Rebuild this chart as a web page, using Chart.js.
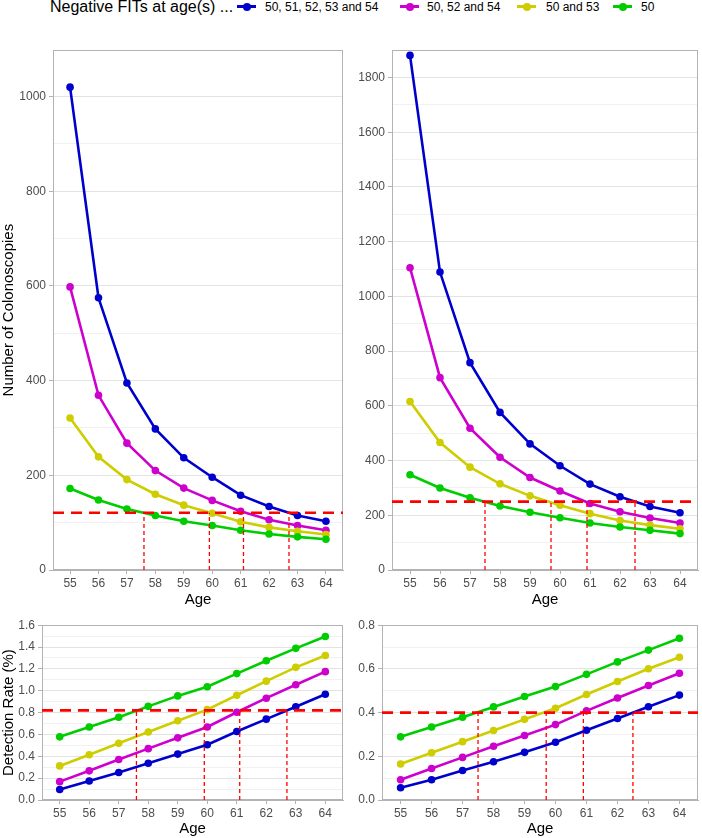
<!DOCTYPE html>
<html>
<head>
<meta charset="utf-8">
<script src="https://cdn.jsdelivr.net/npm/chart.js@4.4.0/dist/chart.umd.min.js"></script>
<style>
  body { margin: 0; background: #fff; width: 702px; height: 838px; position: relative; overflow: hidden;
         font-family: "Liberation Sans", Arial, sans-serif; }
  .box { position: absolute; }
  .lg { position: absolute; white-space: nowrap; line-height: 1; color: #000; }
  .sym { position: absolute; height: 3px; }
  .sym i { position: absolute; left: 50%; top: 50%; width: 8px; height: 8px; margin: -4px 0 0 -4px; border-radius: 50%; }
</style>
</head>
<body>
<div id="legend"></div>
<div class="box" style="left:0;top:40px;width:350px;height:569px"><canvas id="c1"></canvas></div>
<div class="box" style="left:350px;top:40px;width:352px;height:569px"><canvas id="c2"></canvas></div>
<div class="box" style="left:0;top:615px;width:350px;height:223px"><canvas id="c3"></canvas></div>
<div class="box" style="left:350px;top:615px;width:352px;height:223px"><canvas id="c4"></canvas></div>
<script>
// ages on the x axis
const ages = [55, 56, 57, 58, 59, 60, 61, 62, 63, 64];
const seriesNames = ["50, 51, 52, 53 and 54", "50, 52 and 54", "50 and 53", "50"];
const colors = ["#0000CD", "#CD00CD", "#CDCD00", "#00CD00"];

// number of colonoscopies, left panel
const colonLeftFive  = [1020, 575, 395, 298, 237, 196, 158, 134, 115, 103];
const colonLeftThree = [598, 369, 268, 210, 173, 147, 124, 106, 94, 84];
const colonLeftTwo   = [321, 239, 191, 160, 137, 120, 102, 90, 82, 75];
const colonLeftOne   = [172, 148, 129, 115, 103, 94, 84, 76, 70, 65];

// number of colonoscopies, right panel
const colonRightFive  = [1881, 1089, 758, 576, 461, 381, 314, 268, 232, 209];
const colonRightThree = [1105, 703, 518, 412, 338, 289, 243, 213, 190, 172];
const colonRightTwo   = [616, 466, 376, 315, 271, 237, 206, 181, 164, 151];
const colonRightOne   = [348, 300, 264, 234, 211, 191, 172, 157, 145, 133];

// detection rate (%), left panel
const detLeftFive  = [0.096, 0.174, 0.252, 0.336, 0.420, 0.506, 0.627, 0.740, 0.854, 0.968];
const detLeftThree = [0.168, 0.267, 0.371, 0.470, 0.569, 0.668, 0.803, 0.932, 1.055, 1.175];
const detLeftTwo   = [0.312, 0.414, 0.519, 0.623, 0.725, 0.827, 0.959, 1.088, 1.214, 1.322];
const detLeftOne   = [0.578, 0.668, 0.758, 0.857, 0.953, 1.037, 1.157, 1.274, 1.388, 1.496];

// detection rate (%), right panel
const detRightFive  = [0.056, 0.093, 0.135, 0.175, 0.218, 0.264, 0.319, 0.373, 0.427, 0.480];
const detRightThree = [0.093, 0.144, 0.195, 0.246, 0.295, 0.345, 0.408, 0.467, 0.524, 0.580];
const detRightTwo   = [0.165, 0.216, 0.267, 0.318, 0.369, 0.420, 0.483, 0.542, 0.601, 0.653];
const detRightOne   = [0.289, 0.334, 0.379, 0.426, 0.474, 0.519, 0.575, 0.632, 0.686, 0.740];

// y gridlines (labelled ones are the even steps)
const colonLeftTicks  = [0, 100, 200, 300, 400, 500, 600, 700, 800, 900, 1000];
const colonRightTicks = [0, 100, 200, 300, 400, 500, 600, 700, 800, 900, 1000, 1100, 1200, 1300, 1400, 1500, 1600, 1700, 1800, 1900];
const detLeftTicks    = [0, 0.1, 0.2, 0.3, 0.4, 0.5, 0.6, 0.7, 0.8, 0.9, 1.0, 1.1, 1.2, 1.3, 1.4, 1.5, 1.6];
const detRightTicks   = [0, 0.1, 0.2, 0.3, 0.4, 0.5, 0.6, 0.7, 0.8];

// red reference lines
const colonThreshold = [121, 250];
const detThreshold = [0.82, 0.40];
const crossAgesLeft = [57.6, 59.9, 61.1, 62.7];
const crossAgesRight = [57.5, 59.7, 60.9, 62.5];

const X_MIN = 54.4, X_MAX = 64.6;
const GREY = "#b3b3b3";

Chart.defaults.font.family = "'Liberation Sans', Arial, sans-serif";
Chart.defaults.font.size = 12;
Chart.defaults.color = "#4d4d4d";

// legend
(function buildLegend() {
  const lg = document.getElementById("legend");
  const title = document.createElement("div");
  title.className = "lg";
  title.textContent = "Negative FITs at age(s) ...";
  title.style.cssText = "left:50px;top:-1px;font-size:16px";
  lg.appendChild(title);
  const symLeft = [237, 400, 517, 613];
  const textLeft = [265, 427, 546, 641];
  seriesNames.forEach((name, i) => {
    const s = document.createElement("div");
    s.className = "sym";
    s.style.cssText = `left:${symLeft[i]}px;top:5px;width:19px;background:${colors[i]}`;
    s.innerHTML = `<i style="background:${colors[i]}"></i>`;
    lg.appendChild(s);
    const t = document.createElement("div");
    t.className = "lg";
    t.textContent = name;
    t.style.cssText = `left:${textLeft[i]}px;top:1px;font-size:12px`;
    lg.appendChild(t);
  });
})();

const panelBorder = {
  id: "panelBorder",
  beforeDatasetsDraw(chart) {
    const a = chart.chartArea, ctx = chart.ctx;
    ctx.save();
    ctx.strokeStyle = GREY;
    ctx.lineWidth = 1;
    ctx.strokeRect(Math.round(a.left) + 0.5, Math.round(a.top) + 0.5,
                   Math.round(a.right - a.left) - 1, Math.round(a.bottom - a.top) - 1);
    ctx.restore();
  }
};

function makePanel(id, series, thr, cross, yTicks, p) {
  const isMajor = v => Math.abs(v / p.major - Math.round(v / p.major)) < 1e-6;
  const datasets = series.map((vals, i) => ({
    label: seriesNames[i],
    data: ages.map((a, j) => ({ x: a, y: vals[j] })),
    borderColor: colors[i],
    backgroundColor: colors[i],
    borderWidth: 2.6,
    pointRadius: 3.8,
    pointBorderWidth: 0,
    pointBackgroundColor: colors[i],
    order: 4 - i
  }));
  datasets.push({
    data: [{ x: X_MIN, y: thr }, { x: X_MAX, y: thr }],
    borderColor: "#FF0000",
    borderWidth: 2.6,
    borderDash: [11, 7],
    pointRadius: 0,
    order: -1
  });
  cross.forEach(a => datasets.push({
    data: [{ x: a, y: 0 }, { x: a, y: thr }],
    borderColor: "#FF0000",
    borderWidth: 1.3,
    borderDash: [4, 3],
    pointRadius: 0,
    order: -1
  }));

  new Chart(document.getElementById(id), {
    type: "line",
    data: { datasets },
    plugins: [panelBorder],
    options: {
      responsive: true,
      maintainAspectRatio: false,
      animation: false,
      layout: { padding: { top: p.padTop, right: p.padRight, left: 0, bottom: 0 } },
      plugins: { legend: { display: false }, tooltip: { enabled: false } },
      scales: {
        x: {
          type: "linear",
          min: X_MIN,
          max: X_MAX,
          afterBuildTicks: s => { s.ticks = ages.map(v => ({ value: v })); },
          afterFit: s => { s.height = p.xHeight; },
          ticks: { padding: 2, color: "#4d4d4d", font: { size: 12 } },
          grid: { drawOnChartArea: false, drawTicks: true, tickLength: 4, tickColor: GREY },
          border: { display: true, color: GREY, width: 1 },
          title: { display: true, text: "Age", color: "#000", font: { size: 15 }, padding: { top: 0, bottom: 0 } }
        },
        y: {
          min: 0,
          max: p.max,
          afterBuildTicks: s => { s.ticks = yTicks.map(v => ({ value: v })); },
          afterFit: s => { s.width = p.yWidth; },
          ticks: {
            padding: 3,
            color: "#4d4d4d",
            font: { size: 12 },
            autoSkip: false,
            callback: v => isMajor(v) ? v.toFixed(p.decimals) : ""
          },
          grid: {
            color: c => isMajor(c.tick.value) ? "#e3e3e3" : "#f1f1f1",
            tickColor: c => isMajor(c.tick.value) ? GREY : "rgba(0,0,0,0)",
            tickLength: 4,
            lineWidth: 1
          },
          border: { display: true, color: GREY, width: 1 },
          title: { display: !!p.yTitle, text: p.yTitle || "", color: "#000", font: { size: 15 }, padding: { top: 0, bottom: 0 } }
        }
      }
    }
  });
}

makePanel("c1", [colonLeftFive, colonLeftThree, colonLeftTwo, colonLeftOne], colonThreshold[0], crossAgesLeft, colonLeftTicks,
  { max: 1098, major: 200, decimals: 0, yTitle: "Number of Colonoscopies", yWidth: 53, xHeight: 39, padTop: 10, padRight: 7 });
makePanel("c2", [colonRightFive, colonRightThree, colonRightTwo, colonRightOne], colonThreshold[1], crossAgesRight, colonRightTicks,
  { max: 1900, major: 200, decimals: 0, yTitle: "", yWidth: 42, xHeight: 39, padTop: 10, padRight: 2 });
makePanel("c3", [detLeftFive, detLeftThree, detLeftTwo, detLeftOne], detThreshold[0], crossAgesLeft, detLeftTicks,
  { max: 1.6, major: 0.2, decimals: 1, yTitle: "Detection Rate (%)", yWidth: 42, xHeight: 38, padTop: 8, padRight: 7 });
makePanel("c4", [detRightFive, detRightThree, detRightTwo, detRightOne], detThreshold[1], crossAgesRight, detRightTicks,
  { max: 0.8, major: 0.2, decimals: 1, yTitle: "", yWidth: 32, xHeight: 38, padTop: 8, padRight: 2 });
</script>
</body>
</html>
